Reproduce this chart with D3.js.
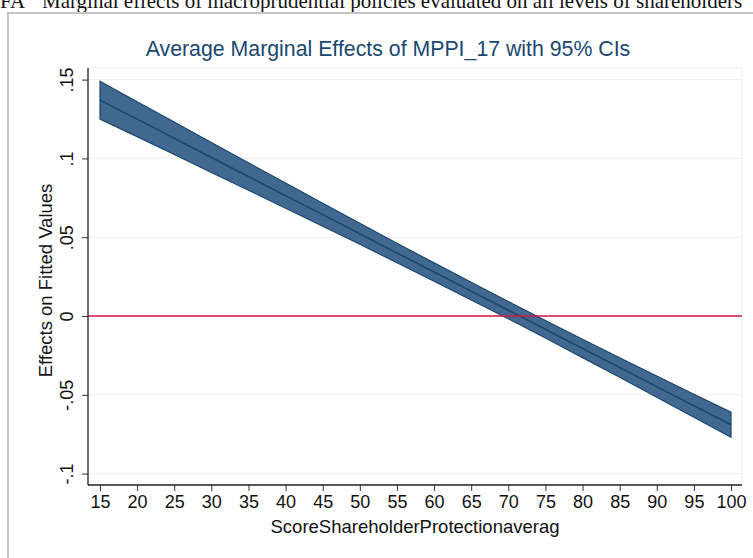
<!DOCTYPE html>
<html>
<head>
<meta charset="utf-8">
<script src="https://cdn.jsdelivr.net/npm/d3@7"></script>
<style>
  body { margin: 0; background: #fff; }
  svg { display: block; }
</style>
</head>
<body>
<div id="chart"></div>
<script>
// values of ScoreShareholderProtectionaverag where margins were evaluated
const scores = [15, 20, 25, 30, 35, 40, 45, 50, 55, 60, 65, 70, 75, 80, 85, 90, 95, 100];
// average marginal effect of MPPI_17 and its 95% CI
const effect = [0.1370, 0.1249, 0.1128, 0.1006, 0.0885, 0.0764, 0.0643, 0.0522, 0.0400,
  0.0279, 0.0158, 0.0037, -0.0084, -0.0206, -0.0327, -0.0448, -0.0569, -0.0690];
const ciLow = [0.1250, 0.1138, 0.1025, 0.0911, 0.0798, 0.0684, 0.0570, 0.0455, 0.0338,
  0.0221, 0.0102, -0.0018, -0.0140, -0.0264, -0.0389, -0.0515, -0.0642, -0.0770];
const ciHigh = [0.1490, 0.1360, 0.1231, 0.1101, 0.0972, 0.0844, 0.0716, 0.0589, 0.0462,
  0.0337, 0.0214, 0.0092, -0.0028, -0.0148, -0.0265, -0.0381, -0.0496, -0.0610];
const yTicks = [-0.1, -0.05, 0, 0.05, 0.1, 0.15];
const yTickLabels = ["-.1", "-.05", "0", ".05", ".1", ".15"];
const xTicks = scores;

const width = 753;
const height = 558;
const navy = "#1a476f";
const sans = "Liberation Sans, Arial, sans-serif";

const svg = d3.select("#chart")
  .append("svg")
  .attr("width", width)
  .attr("height", height);

// caption of the page the graph was cut from (clipped at the top, as in the scan)
svg.append("text")
  .attr("x", 0)
  .attr("y", 8)
  .attr("font-family", "Liberation Serif, Times New Roman, serif")
  .attr("font-size", 21)
  .attr("fill", "#111")
  .text("FA");
svg.append("text")
  .attr("x", 42)
  .attr("y", 8)
  .attr("font-family", "Liberation Serif, Times New Roman, serif")
  .attr("font-size", 21)
  .attr("fill", "#111")
  .text("Marginal effects of macroprudential policies evaluated on all levels of shareholders");

// frame around the pasted graph
svg.append("rect")
  .attr("x", 8)
  .attr("y", 13)
  .attr("width", width + 10)
  .attr("height", height + 10)
  .attr("fill", "none")
  .attr("stroke", "#c4c4c4")
  .attr("stroke-width", 2);

// Scales
const x = d3.scaleLinear().domain([15, 100]).range([100, 731]);
const y = d3.scaleLinear().domain([0, 0.05]).range([316, 237.2]);

const plotLeft = 88, plotRight = 742, plotTop = 68, plotBottom = 485;

// faint plot region border + gridlines
svg.append("rect")
  .attr("x", plotLeft)
  .attr("y", plotTop)
  .attr("width", plotRight - plotLeft)
  .attr("height", plotBottom - plotTop)
  .attr("fill", "none")
  .attr("stroke", "#f0f0f0");

svg.append("g")
  .selectAll("line")
  .data(yTicks)
  .enter()
  .append("line")
  .attr("x1", plotLeft)
  .attr("x2", plotRight)
  .attr("y1", d => y(d))
  .attr("y2", d => y(d))
  .attr("stroke", "#f0f0f0")
  .attr("stroke-width", 1);

// CI band
const rows = scores.map((s, i) => ({s: s, m: effect[i], lo: ciLow[i], hi: ciHigh[i]}));

const area = d3.area()
  .x(d => x(d.s))
  .y0(d => y(d.lo))
  .y1(d => y(d.hi));

svg.append("path")
  .datum(rows)
  .attr("d", area)
  .attr("fill", "#41698f")
  .attr("stroke", navy)
  .attr("stroke-width", 1.2)
  .attr("stroke-linejoin", "miter");

// point estimate line
const line = d3.line()
  .x(d => x(d.s))
  .y(d => y(d.m));

svg.append("path")
  .datum(rows)
  .attr("d", line)
  .attr("fill", "none")
  .attr("stroke", navy)
  .attr("stroke-width", 1.6);

// zero reference line
svg.append("line")
  .attr("x1", plotLeft)
  .attr("x2", plotRight)
  .attr("y1", y(0))
  .attr("y2", y(0))
  .attr("stroke", "#cc1a45")
  .attr("stroke-width", 1.6);

// Axes
const xAxis = svg.append("g")
  .attr("transform", `translate(0,${plotBottom})`)
  .call(d3.axisBottom(x).tickValues(xTicks).tickSize(6).tickSizeOuter(0).tickPadding(4));
xAxis.select(".domain").remove();
xAxis.selectAll("text")
  .attr("font-family", sans)
  .attr("font-size", 18)
  .attr("fill", "#111");
xAxis.selectAll("line").attr("stroke", "#333");

const yAxis = svg.append("g")
  .attr("transform", `translate(${plotLeft},0)`)
  .call(d3.axisLeft(y).tickValues(yTicks).tickFormat((d, i) => yTickLabels[i]).tickSize(6).tickSizeOuter(0));
yAxis.select(".domain").remove();
yAxis.selectAll("line").attr("stroke", "#333");
yAxis.selectAll("text")
  .attr("x", null)
  .attr("dy", null)
  .attr("transform", "translate(-15,0) rotate(-90)")
  .attr("text-anchor", "middle")
  .attr("font-family", sans)
  .attr("font-size", 18)
  .attr("fill", "#111");

// axis lines
svg.append("line")
  .attr("x1", plotLeft).attr("x2", plotLeft)
  .attr("y1", plotTop).attr("y2", plotBottom)
  .attr("stroke", "#222").attr("stroke-width", 1.3);
svg.append("line")
  .attr("x1", plotLeft).attr("x2", plotRight)
  .attr("y1", plotBottom).attr("y2", plotBottom)
  .attr("stroke", "#222").attr("stroke-width", 1.3);

// Titles
svg.append("text")
  .attr("x", 388)
  .attr("y", 56)
  .attr("text-anchor", "middle")
  .attr("font-family", sans)
  .attr("font-size", 21.3)
  .attr("fill", navy)
  .text("Average Marginal Effects of MPPI_17 with 95% CIs");

svg.append("text")
  .attr("x", (plotLeft + plotRight) / 2)
  .attr("y", 533)
  .attr("text-anchor", "middle")
  .attr("font-family", sans)
  .attr("font-size", 18.5)
  .attr("fill", "#111")
  .text("ScoreShareholderProtectionaverag");

svg.append("text")
  .attr("transform", `translate(52,${(plotTop + plotBottom) / 2 + 4}) rotate(-90)`)
  .attr("text-anchor", "middle")
  .attr("font-family", sans)
  .attr("font-size", 18.5)
  .attr("fill", "#111")
  .text("Effects on Fitted Values");
</script>
</body>
</html>
